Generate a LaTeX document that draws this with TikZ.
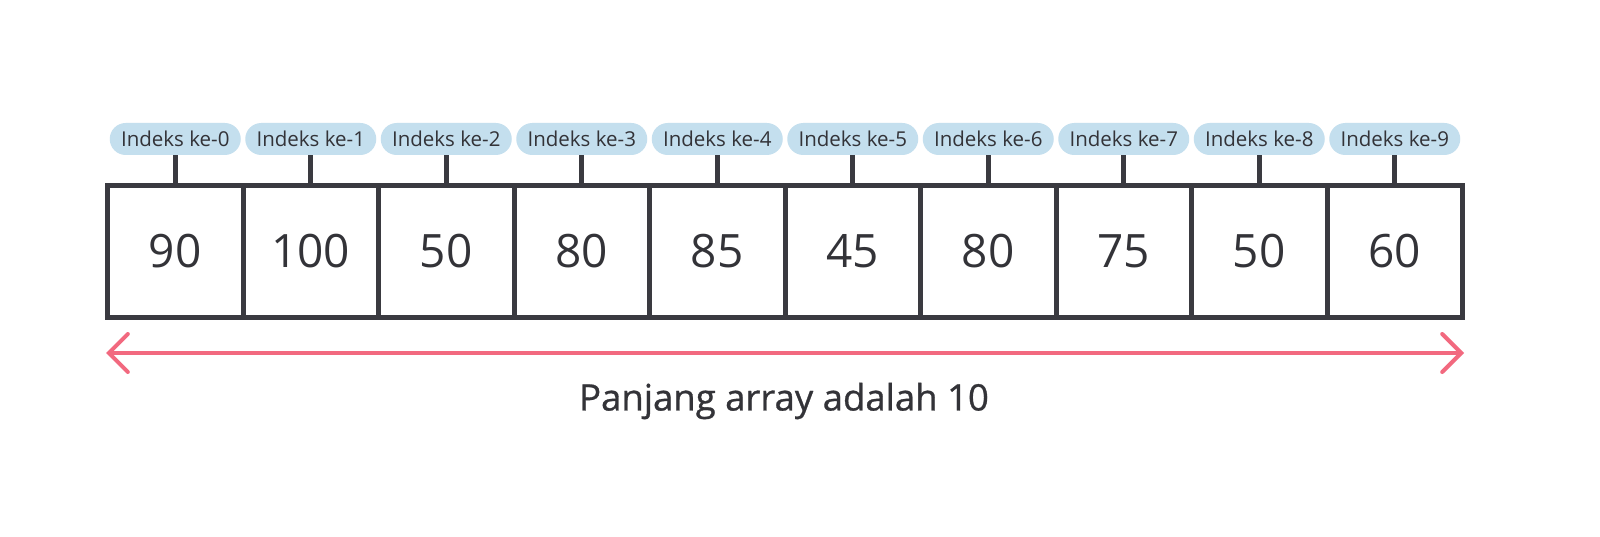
\documentclass[tikz,border=0pt]{standalone}
\usepackage{fontspec}
\setmainfont{Open Sans}
\newfontfamily\labelfont[FakeBold=0.8]{Open Sans}
\usetikzlibrary{arrows.meta}
\definecolor{boxline}{HTML}{3A3A40}
\definecolor{pillfill}{HTML}{C4DFEE}
\definecolor{pinkline}{HTML}{F2697F}
\definecolor{txt}{HTML}{333338}
\tikzset{
  cellbox/.style={draw=boxline, line width=5pt, minimum width=135.5pt, minimum height=132pt, inner sep=0pt, text=txt, font=\fontsize{46}{52}\selectfont},
  pill/.style={fill=pillfill, rounded corners=16pt, minimum width=131pt, minimum height=32pt, inner sep=0pt, text=txt, font=\fontsize{20.5}{24}\selectfont},
  stub/.style={draw=boxline, line width=5pt},
  lenarrow/.style={draw=pinkline, line width=4pt, {Straight Barb[length=19pt,width=38pt,line cap=round]}-{Straight Barb[length=19pt,width=38pt,line cap=round]}},
}
\begin{document}
\begin{tikzpicture}[x=1pt,y=-1pt]
\useasboundingbox (0,0) rectangle (1600,537);
\fill[white] (0,0) rectangle (1600,537);
\foreach \i/\v in {0/90,1/100,2/50,3/80,4/85,5/45,6/80,7/75,8/50,9/60}{
  \node[cellbox] (c\i) at ({175.25+135.5*\i},251.5) {\v};
  \node[pill] (p\i) at ({175.25+135.5*\i},139) {Indeks ke-\i};
  \draw[stub] (p\i.south) -- (c\i.north);
}
\coordinate (L) at (106,353);
\coordinate (R) at (1464,353);
\draw[lenarrow] (L) -- (R);
\node[text=txt, font=\labelfont\fontsize{36.5}{40}\selectfont] (lbl) at (784,401) {Panjang array adalah 10};
\end{tikzpicture}
\end{document}
